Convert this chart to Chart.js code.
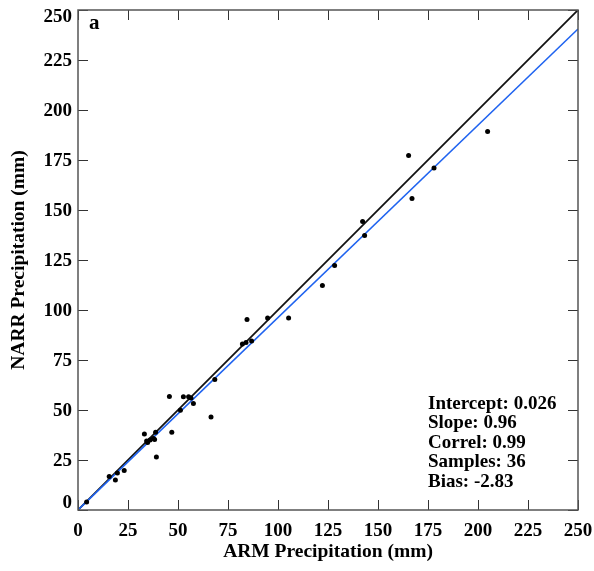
<!DOCTYPE html>
<html>
<head>
<meta charset="utf-8">
<script src="https://cdn.jsdelivr.net/npm/chart.js@4/dist/chart.umd.min.js"></script>
<style>
html,body{margin:0;padding:0;background:#fff;}
#wrap{width:594px;height:571px;}
</style>
</head>
<body>
<div id="wrap"><canvas id="c" width="594" height="571"></canvas></div>
<script>
const armPrecip = [4.3, 15.6, 18.7, 19.7, 23.1, 33.2, 34.3, 34.8, 36.0, 38.8, 37.7, 38.3, 39.2, 45.7, 46.9, 51.2, 52.7, 55.3, 56.5, 57.7, 66.5, 68.4, 82.2, 84.0, 86.8, 84.5, 94.8, 105.3, 122.2, 128.3, 142.3, 143.3, 165.3, 167.0, 178.0, 204.8];
const narrPrecip = [4.0, 16.8, 15.0, 18.5, 19.8, 38.0, 34.5, 33.7, 35.0, 38.9, 35.7, 35.3, 26.5, 56.7, 38.9, 49.9, 56.6, 56.6, 56.0, 53.3, 46.5, 65.3, 83.0, 83.7, 84.5, 95.3, 96.0, 96.0, 112.2, 122.3, 144.2, 137.2, 177.2, 155.7, 171.0, 189.3];
const oneToOneX = [0, 250];
const oneToOneY = [0, 250];
const fitX = [0, 250];
const fitY = [0.026, 240.5];
const tickValues = [0, 25, 50, 75, 100, 125, 150, 175, 200, 225, 250];
const statsLines = ["Intercept: 0.026", "Slope: 0.96", "Correl: 0.99", "Samples: 36", "Bias: -2.83"];
const panelLabel = "a";
const xTitle = "ARM Precipitation (mm)";
const yTitle = "NARR Precipitation (mm)";

const FONT = "'Liberation Serif', 'Times New Roman', serif";

const points = armPrecip.map((v, i) => ({x: v, y: narrPrecip[i]}));
const line1 = oneToOneX.map((v, i) => ({x: v, y: oneToOneY[i]}));
const line2 = fitX.map((v, i) => ({x: v, y: fitY[i]}));

const overlay = {
  id: 'overlay',
  afterDraw(chart) {
    const ctx = chart.ctx;
    const a = chart.chartArea;
    const xs = chart.scales.x, ys = chart.scales.y;
    ctx.save();
    ctx.strokeStyle = '#333';
    ctx.lineWidth = 1;
    const L = 10;
    tickValues.forEach(v => {
      const px = Math.round(xs.getPixelForValue(v)) + 0.5;
      const py = Math.round(ys.getPixelForValue(v)) + 0.5;
      ctx.beginPath();
      ctx.moveTo(px, a.bottom); ctx.lineTo(px, a.bottom - L);
      ctx.moveTo(px, a.top); ctx.lineTo(px, a.top + L);
      ctx.moveTo(a.left, py); ctx.lineTo(a.left + L, py);
      ctx.moveTo(a.right, py); ctx.lineTo(a.right - L, py);
      ctx.stroke();
    });
    ctx.strokeStyle = '#555';
    ctx.lineWidth = 1.5;
    ctx.strokeRect(a.left, a.top, a.right - a.left, a.bottom - a.top);
    ctx.fillStyle = '#000';
    // y tick labels (end labels pulled inward as in the reference)
    ctx.font = "bold 19px " + FONT;
    ctx.textAlign = 'right';
    ctx.textBaseline = 'middle';
    tickValues.forEach(v => {
      let py = ys.getPixelForValue(v);
      if (v === ys.max) py += 7;
      else if (v === ys.min) py -= 7;
      else py += 1;
      ctx.fillText(String(v), a.left - 6, py);
    });
    ctx.font = "bold 21px " + FONT;
    ctx.textAlign = 'left';
    ctx.fillText(panelLabel, a.left + 11, a.top + 14);
    ctx.font = "bold 19px " + FONT;
    statsLines.forEach((s, i) => {
      ctx.fillText(s, 428, 404 + i * 19.5);
    });
    ctx.restore();
  }
};

new Chart(document.getElementById('c'), {
  type: 'scatter',
  data: {
    datasets: [
      {data: line1, type: 'line', showLine: true, borderColor: '#111', borderWidth: 1.8, pointRadius: 0, fill: false, order: 2},
      {data: line2, type: 'line', showLine: true, borderColor: '#1f63f0', borderWidth: 1.6, pointRadius: 0, fill: false, order: 1},
      {data: points, backgroundColor: '#000', borderColor: '#000', pointRadius: 2.5, borderWidth: 0, order: 0}
    ]
  },
  options: {
    responsive: false,
    animation: false,
    layout: {padding: {top: 10, right: 16, left: 0, bottom: 0}},
    plugins: {legend: {display: false}, tooltip: {enabled: false}},
    scales: {
      x: {
        type: 'linear', min: 0, max: 250,
        afterBuildTicks(s) { s.ticks = tickValues.map(v => ({value: v})); },
        afterFit(s) { s.height = 61; s.paddingLeft = 0; s.paddingRight = 0; },
        grid: {display: false, drawTicks: false},
        border: {display: false},
        ticks: {padding: 10, color: '#000', font: {family: FONT, size: 19, weight: 'bold'}},
        title: {display: true, text: xTitle, color: '#000', padding: {top: 0, bottom: 7}, font: {family: FONT, size: 19.5, weight: 'bold'}}
      },
      y: {
        type: 'linear', min: 0, max: 250,
        afterBuildTicks(s) { s.ticks = tickValues.map(v => ({value: v})); },
        afterFit(s) { s.width = 78; s.paddingTop = 0; s.paddingBottom = 0; },
        grid: {display: false, drawTicks: false},
        border: {display: false},
        ticks: {display: false, padding: 6, color: '#000', font: {family: FONT, size: 19, weight: 'bold'}},
        title: {display: true, text: yTitle, color: '#000', padding: {top: 7, bottom: 0}, font: {family: FONT, size: 19.5, weight: 'bold'}}
      }
    }
  },
  plugins: [overlay]
});
</script>
</body>
</html>
